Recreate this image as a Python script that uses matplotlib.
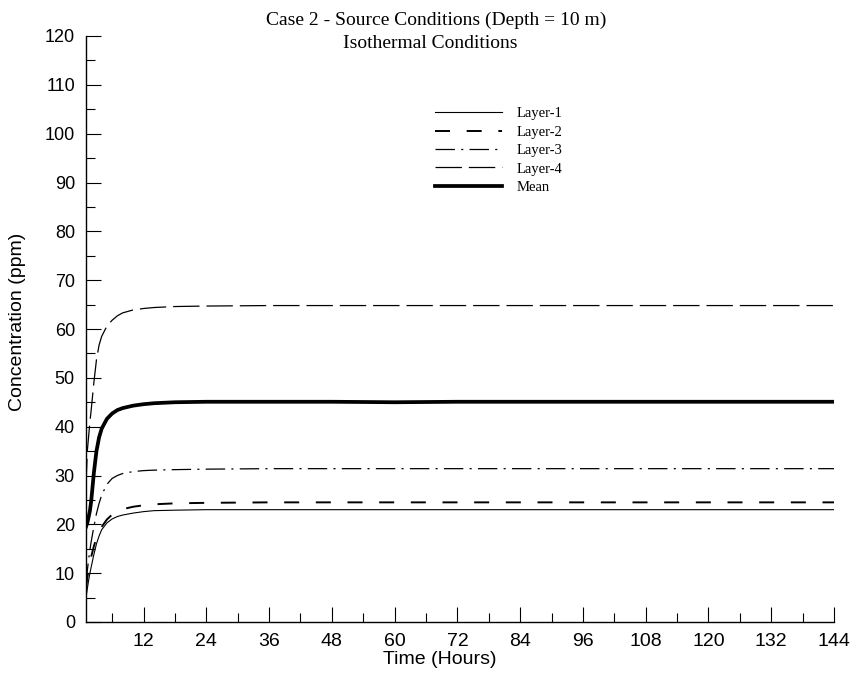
import matplotlib
matplotlib.use("Agg")
import matplotlib.pyplot as plt
from matplotlib.ticker import MultipleLocator, FixedLocator

# values
hours = [1, 1.25, 1.5, 1.75, 2, 2.5, 3, 3.5, 4, 5, 6, 7, 8, 10, 12, 14, 18, 24,
         36, 48, 60, 72, 96, 120, 144]
layer1 = [5.0, 6.8, 8.5, 10.0, 11.3, 13.8, 16.0, 17.6, 18.9, 20.3, 21.1, 21.6, 21.9,
          22.3, 22.6, 22.8, 22.9, 23.0, 23.0, 23.0, 23.0, 23.0, 23.0, 23.0, 23.0]
layer2 = [7.0, 9.0, 10.8, 12.2, 13.4, 15.5, 17.2, 18.5, 19.5, 21.0, 22.0, 22.6, 23.1,
          23.6, 23.9, 24.1, 24.3, 24.4, 24.5, 24.5, 24.5, 24.5, 24.5, 24.5, 24.5]
layer3 = [8.0, 10.5, 12.8, 14.8, 16.5, 19.5, 22.2, 24.3, 26.0, 28.2, 29.4, 30.0, 30.4,
          30.8, 31.0, 31.1, 31.2, 31.3, 31.4, 31.4, 31.4, 31.4, 31.4, 31.4, 31.4]
layer4 = [28.0, 35.0, 38.0, 41.0, 43.5, 49.0, 53.7, 56.7, 58.5, 60.6, 61.8, 62.7, 63.3,
          63.9, 64.2, 64.4, 64.6, 64.7, 64.8, 64.8, 64.8, 64.8, 64.8, 64.8, 64.8]
mean = [19.5, 20.3, 21.5, 22.8, 24.8, 30.5, 35.0, 37.8, 39.6, 41.6, 42.7, 43.4, 43.8,
        44.3, 44.6, 44.8, 45.0, 45.1, 45.1, 45.1, 45.0, 45.1, 45.1, 45.1, 45.1]

xticks = list(range(12, 145, 12))
yticks = list(range(0, 121, 10))

plt.rcParams["lines.scale_dashes"] = False
sans = ["Liberation Sans", "DejaVu Sans"]
serif = ["Liberation Serif", "DejaVu Serif"]

fig = plt.figure(figsize=(8.58, 6.75), dpi=100)
ax = fig.add_axes([86 / 858, 53 / 675, 748 / 858, 586 / 675])

ax.plot(hours, layer1, color="black", lw=0.8, label="Layer-1")
ax.plot(hours, layer2, color="black", lw=1.4, dashes=(10.8, 12), label="Layer-2")
ax.plot(hours, layer3, color="black", lw=0.9, dashes=(14, 4.5, 1.5, 4.5), label="Layer-3")
ax.plot(hours, layer4, color="black", lw=0.9, dashes=(19, 5), label="Layer-4")
ax.plot(hours, mean, color="black", lw=2.7, label="Mean")

ax.set_xlim(1, 144)
ax.set_ylim(0, 120)
for s in ("top", "right"):
    ax.spines[s].set_visible(False)
for s in ("left", "bottom"):
    ax.spines[s].set_linewidth(1.0)

ax.xaxis.set_major_locator(FixedLocator(xticks))
ax.xaxis.set_minor_locator(FixedLocator(list(range(6, 144, 12))))
ax.yaxis.set_major_locator(FixedLocator(yticks))
ax.yaxis.set_minor_locator(MultipleLocator(5))
ax.tick_params(which="major", direction="in", length=10.8, width=0.8, pad=8)
ax.tick_params(which="minor", direction="in", length=6.5, width=0.8)
ax.set_xticklabels([str(v) for v in xticks], family=sans, fontsize=14)
ax.set_yticklabels([str(v) for v in yticks], family=sans, fontsize=13)

fig.text(18 / 858, 1 - 322 / 675, "Concentration (ppm)", rotation=90,
         ha="center", va="center", family=sans, fontsize=14)
fig.text(440 / 858, 1 - 660 / 675, "Time (Hours)", ha="center", va="center",
         family=sans, fontsize=14)

fig.text(436 / 858, 1 - 25 / 675, "Case 2 - Source Conditions (Depth = 10 m)",
         ha="center", va="baseline", family=serif, fontsize=14)
fig.text(430 / 858, 1 - 48 / 675, "Isothermal Conditions",
         ha="center", va="baseline", family=serif, fontsize=14)

leg = ax.legend(loc="upper left", bbox_to_anchor=(435 / 858, 1 - 107 / 675),
                bbox_transform=fig.transFigure, frameon=False, borderpad=0,
                borderaxespad=0, handlelength=4.6, handletextpad=1.0,
                labelspacing=0.36, prop={"family": serif, "size": 10.5})

fig.savefig("out.png", dpi=100)
